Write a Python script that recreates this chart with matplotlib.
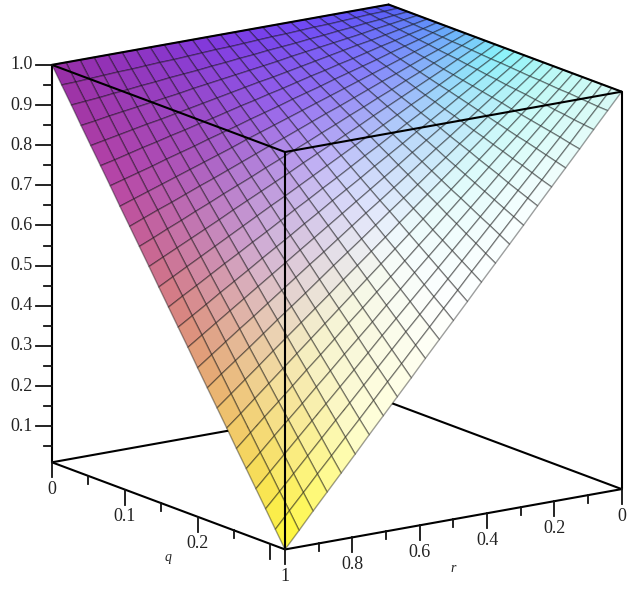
import numpy as np
import matplotlib
matplotlib.use('Agg')
import matplotlib.pyplot as plt
from mpl_toolkits.mplot3d import proj3d

# DATA

r_grid = [0.0, 0.0417, 0.0833, 0.125, 0.1667, 0.2083, 0.25, 0.2917, 0.3333, 0.375, 0.4167, 0.4583, 0.5,
          0.5417, 0.5833, 0.625, 0.6667, 0.7083, 0.75, 0.7917, 0.8333, 0.875, 0.9167, 0.9583, 1.0]
q_grid = [0.0, 0.0133, 0.0267, 0.04, 0.0533, 0.0667, 0.08, 0.0933, 0.1067, 0.12, 0.1333, 0.1467, 0.16,
          0.1733, 0.1867, 0.2, 0.2133, 0.2267, 0.24, 0.2533, 0.2667, 0.28, 0.2933, 0.3067, 0.32]

z_grid = [
    [1.0] * 25,
    [1, .998, .997, .995, .993, .991, .990, .988, .986, .985, .983, .981, .979, .978, .976, .974, .972, .971, .969, .967, .966, .964, .962, .960, .959],
    [1, .997, .993, .990, .986, .983, .979, .976, .972, .969, .966, .962, .959, .955, .952, .948, .945, .942, .938, .935, .931, .928, .924, .921, .918],
    [1, .995, .990, .985, .979, .974, .969, .964, .959, .954, .948, .943, .938, .933, .928, .923, .918, .912, .907, .902, .897, .892, .887, .881, .876],
    [1, .993, .986, .979, .972, .966, .959, .952, .945, .938, .931, .924, .918, .911, .904, .897, .890, .883, .876, .869, .863, .856, .849, .842, .835],
    [1, .991, .983, .974, .966, .957, .948, .940, .931, .923, .914, .905, .897, .888, .880, .871, .862, .854, .845, .837, .828, .820, .811, .802, .794],
    [1, .990, .979, .969, .959, .948, .938, .928, .918, .907, .897, .887, .876, .866, .856, .845, .835, .825, .814, .804, .794, .783, .773, .763, .753],
    [1, .988, .976, .964, .952, .940, .928, .916, .904, .892, .880, .868, .856, .844, .832, .820, .807, .795, .783, .771, .759, .747, .735, .723, .711],
    [1, .986, .972, .959, .945, .931, .918, .904, .890, .876, .863, .849, .835, .821, .808, .794, .780, .766, .752, .739, .725, .711, .698, .684, .670],
    [1, .985, .969, .954, .938, .923, .907, .892, .876, .861, .845, .830, .814, .799, .783, .768, .752, .737, .722, .706, .691, .675, .660, .644, .629],
    [1, .983, .966, .948, .931, .914, .897, .880, .863, .845, .828, .811, .794, .777, .759, .742, .725, .708, .691, .673, .656, .639, .622, .605, .588],
    [1, .981, .962, .943, .924, .905, .887, .868, .849, .830, .811, .792, .773, .754, .735, .716, .698, .679, .660, .641, .622, .603, .584, .565, .546],
    [1, .979, .959, .938, .918, .897, .876, .856, .835, .814, .794, .773, .752, .732, .711, .691, .670, .649, .629, .608, .588, .567, .546, .526, .505],
    [1, .978, .955, .933, .911, .888, .866, .844, .821, .799, .777, .754, .732, .710, .687, .665, .642, .620, .598, .575, .553, .531, .508, .486, .464],
    [1, .976, .952, .928, .904, .880, .856, .832, .808, .783, .759, .735, .711, .687, .663, .639, .615, .591, .567, .543, .519, .495, .471, .447, .423],
    [1, .974, .948, .923, .897, .871, .845, .820, .794, .768, .742, .716, .691, .665, .639, .613, .588, .562, .536, .510, .484, .459, .433, .407, .381],
    [1, .972, .945, .918, .890, .862, .835, .807, .780, .752, .725, .698, .670, .642, .615, .588, .560, .532, .505, .478, .450, .422, .395, .368, .340],
    [1, .971, .942, .912, .883, .854, .825, .795, .766, .737, .708, .679, .649, .620, .591, .562, .532, .503, .474, .445, .416, .386, .357, .328, .299],
    [1, .969, .938, .907, .876, .845, .814, .783, .752, .722, .691, .660, .629, .598, .567, .536, .505, .474, .443, .412, .381, .350, .319, .288, .258],
    [1, .967, .935, .902, .869, .837, .804, .771, .739, .706, .673, .641, .608, .575, .543, .510, .478, .445, .412, .380, .347, .314, .282, .249, .216],
    [1, .966, .931, .897, .863, .828, .794, .759, .725, .691, .656, .622, .588, .553, .519, .484, .450, .416, .381, .347, .312, .278, .244, .209, .175],
    [1, .964, .928, .892, .856, .820, .783, .747, .711, .675, .639, .603, .567, .531, .495, .459, .422, .386, .350, .314, .278, .242, .206, .170, .134],
    [1, .962, .924, .887, .849, .811, .773, .735, .698, .660, .622, .584, .546, .508, .471, .433, .395, .357, .319, .282, .244, .206, .168, .130, .093],
    [1, .960, .921, .881, .842, .802, .763, .723, .684, .644, .605, .565, .526, .486, .447, .407, .368, .328, .288, .249, .209, .170, .130, .091, .051],
    [1, .959, .918, .876, .835, .794, .753, .711, .670, .629, .588, .546, .505, .464, .423, .381, .340, .299, .258, .216, .175, .134, .093, .051, .010],
]

z_major = [0.1, 0.2, 0.3, 0.4, 0.5, 0.6, 0.7, 0.8, 0.9, 1.0]
z_minor = [0.05, 0.15, 0.25, 0.35, 0.45, 0.55, 0.65, 0.75, 0.85, 0.95]
z_labels = ['0.1', '0.2', '0.3', '0.4', '0.5', '0.6', '0.7', '0.8', '0.9', '1.0']

q_major = [0, 0.1, 0.2, 0.3]
q_minor = [0.05, 0.15, 0.25]
q_labels = ['0', '0.1', '0.2', '']

r_major = [0, 0.2, 0.4, 0.6, 0.8, 1.0]
r_minor = [0.1, 0.3, 0.5, 0.7, 0.9]
r_labels = ['0', '0.2', '0.4', '0.6', '0.8', '1']

# Surface colours: rows go along r, columns along q
surface_rgb = np.array([
    [(85, 85, 245), (100, 165, 250), (135, 245, 250), (190, 250, 245), (215, 250, 245)],
    [(110, 70, 245), (130, 120, 250), (170, 210, 250), (215, 250, 250), (250, 255, 255)],
    [(125, 55, 225), (150, 100, 235), (205, 205, 250), (245, 252, 252), (255, 255, 255)],
    [(140, 50, 195), (165, 80, 190), (205, 165, 210), (245, 240, 200), (255, 255, 215)],
    [(150, 45, 165), (185, 70, 165), (215, 125, 125), (240, 195, 100), (255, 250, 50)],
]) / 255

# SETUP

q_max = q_grid[-1]
z_min = 0.01
azim = 55.3
elev = 15

fig = plt.figure(figsize=(6.29, 5.93), dpi=100)
# Oversized square axes, the cube only fills the middle of it
ax = fig.add_axes([-74.0 / 629, -94.8 / 593, 800 / 629, 800 / 593], projection='3d', computed_zorder=False)
ax.set_proj_type('ortho')
ax.view_init(elev=elev, azim=azim)
ax.set_box_aspect((409, 409, 411), zoom=0.862)
ax.set_xlim(0, 1)
ax.set_ylim(0, q_max)
ax.set_zlim(z_min, 1)
ax.set_axis_off()

# SURFACE

# Colour of each cell comes from its centre in the sampled colour table
n_r = len(r_grid) - 1
n_q = len(q_grid) - 1
cell_colors = np.ones((n_q, n_r, 4))
for i in range(n_q):
    for j in range(n_r):
        a = (j + 0.5) / n_r * 4
        b = (i + 0.5) / n_q * 4
        a0, b0 = int(a), int(b)
        fa, fb = a - a0, b - b0
        cell_colors[i, j, :3] = ((1 - fa) * (1 - fb) * surface_rgb[a0, b0]
                                 + fa * (1 - fb) * surface_rgb[a0 + 1, b0]
                                 + (1 - fa) * fb * surface_rgb[a0, b0 + 1]
                                 + fa * fb * surface_rgb[a0 + 1, b0 + 1])

R, Q = np.meshgrid(r_grid, q_grid)
surf = ax.plot_surface(R, Q, np.array(z_grid), rstride=1, cstride=1, facecolors=cell_colors,
                       shade=False, linewidth=1.0, zorder=2)
surf.set_edgecolor((0, 0, 0, 0.38))

# BOX

def edge(rs, qs, zs, zorder=3):
    ax.plot(rs, qs, zs, color='black', lw=1.5, solid_capstyle='round', zorder=zorder)

# Floor edges at the back go under the surface
edge([1, 0], [0, 0], [z_min, z_min], zorder=1)
edge([0, 0], [0, q_max], [z_min, z_min], zorder=1)
# Floor edges in front
edge([1, 1], [0, q_max], [z_min, z_min])
edge([1, 0], [q_max, q_max], [z_min, z_min])
# Lid
edge([1, 1], [0, q_max], [1, 1])
edge([1, 0], [q_max, q_max], [1, 1])
edge([0, 0], [q_max, 0], [1, 1])
edge([0, 1], [0, 0], [1, 1])
# Uprights
edge([1, 1], [0, 0], [z_min, 1])
edge([1, 1], [q_max, q_max], [z_min, 1])
edge([0, 0], [q_max, q_max], [z_min, 1])

# TICKS AND LABELS

tick_color = '#111111'
label_font = dict(family='Liberation Serif', fontsize=13, color='#222222')
letter_font = dict(family='Liberation Serif', fontsize=10, color='#222222', style='italic')

def label_at(r, q, z, text, ha='center', **font):
    # Plain 2D text placed where the 3D point lands on the view
    x2, y2, _ = proj3d.proj_transform(r, q, z, ax.get_proj())
    ax.text2D(x2, y2, text, ha=ha, va='center', transform=ax.transData, **font)

# Screen-left direction, in data units per pixel
left_r = np.sin(np.radians(azim)) / 409
left_q = -np.cos(np.radians(azim)) / 409 * q_max
z_px = 1 / 401

for z, label in zip(z_major, z_labels):
    ax.plot([1, 1 + 16 * left_r], [0, 16 * left_q], [z, z], color=tick_color, lw=1.3, zorder=3)
    label_at(1 + 19 * left_r, 19 * left_q, z, label, ha='right', **label_font)
for z in z_minor:
    ax.plot([1, 1 + 8 * left_r], [0, 8 * left_q], [z, z], color=tick_color, lw=1.3, zorder=3)

for q, label in zip(q_major, q_labels):
    ax.plot([1, 1], [q, q], [z_min, z_min - 15 * z_px], color=tick_color, lw=1.3, zorder=3)
    if label:
        label_at(1, q, z_min - 27 * z_px, label, **label_font)
for q in q_minor:
    ax.plot([1, 1], [q, q], [z_min, z_min - 8 * z_px], color=tick_color, lw=1.3, zorder=3)

for r, label in zip(r_major, r_labels):
    ax.plot([r, r], [q_max, q_max], [z_min, z_min - 15 * z_px], color=tick_color, lw=1.3, zorder=3)
    label_at(r, q_max, z_min - 27 * z_px, label, **label_font)
for r in r_minor:
    ax.plot([r, r], [q_max, q_max], [z_min, z_min - 8 * z_px], color=tick_color, lw=1.3, zorder=3)

label_at(1, 0.159, z_min - 52 * z_px, 'q', **letter_font)
label_at(0.5, q_max, z_min - 49 * z_px, 'r', **letter_font)

plt.savefig('out.png', dpi=100)
